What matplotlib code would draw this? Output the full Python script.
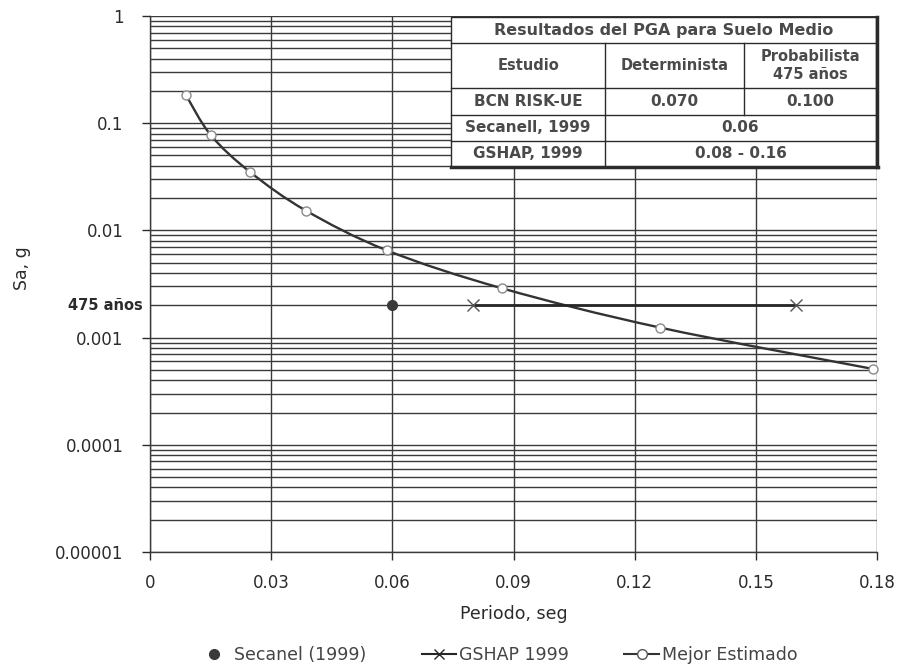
import numpy as np
import matplotlib.pyplot as plt
from matplotlib.ticker import FixedLocator, LogLocator, NullFormatter
from matplotlib.lines import Line2D
from matplotlib.path import Path
from matplotlib.patches import PathPatch

plt.rcParams['font.family'] = ['DejaVu Sans']

# best-estimate spectrum (period in s, Sa in g)
periodo = [0.0089, 0.0151, 0.0248, 0.0386, 0.0587, 0.0872, 0.1263, 0.179]
sa_mejor = [0.183, 0.077, 0.035, 0.0153, 0.0065, 0.00288, 0.00124, 0.00051]

# single-value studies at the 475-year level
secanel_x = [0.06]
secanel_y = [0.002]
gshap_x = [0.08, 0.16]
gshap_y = [0.002, 0.002]
nivel_475 = 0.002

x_ticks = [0, 0.03, 0.06, 0.09, 0.12, 0.15, 0.18]
y_ticks = [1e-5, 1e-4, 1e-3, 1e-2, 1e-1, 1]
y_labels = ['0.00001', '0.0001', '0.001', '0.01', '0.1', '1']

tabla_titulo = 'Resultados del PGA para Suelo Medio'
tabla_cabecera = ['Estudio', 'Determinista', 'Probabilista\n475 años']
tabla_bcn = ['BCN RISK-UE', '0.070', '0.100']
tabla_secanell = ['Secanell, 1999', '0.06']
tabla_gshap = ['GSHAP, 1999', '0.08 - 0.16']

ink = '#2b2b2b'
grid_c = '#3a3a3a'


def smooth_path(xs, ys, tension=1 / 6):
    # Catmull-Rom style cubic segments, computed in (x, log y) space
    pts = np.column_stack([xs, np.log10(ys)])
    verts = [pts[0]]
    codes = [Path.MOVETO]
    n = len(pts)
    for i in range(n - 1):
        p0 = pts[max(i - 1, 0)]
        p1 = pts[i]
        p2 = pts[i + 1]
        p3 = pts[min(i + 2, n - 1)]
        c1 = p1 + (p2 - p0) * tension
        c2 = p2 - (p3 - p1) * tension
        verts += [c1, c2, p2]
        codes += [Path.CURVE4] * 3
    verts = np.array(verts)
    verts[:, 1] = 10 ** verts[:, 1]
    return Path(verts, codes)


fig = plt.figure(figsize=(8.97, 6.69), dpi=100)
ax = fig.add_axes([150 / 897, 1 - 552 / 669, 727 / 897, 536 / 669])

ax.set_yscale('log')
ax.set_xlim(0, 0.18)
ax.set_ylim(1e-5, 1)

ax.xaxis.set_major_locator(FixedLocator(x_ticks))
ax.set_xticklabels([f'{v:g}' for v in x_ticks])
ax.yaxis.set_major_locator(FixedLocator(y_ticks))
ax.set_yticklabels(y_labels)
ax.yaxis.set_minor_locator(LogLocator(base=10, subs=range(2, 10)))
ax.yaxis.set_minor_formatter(NullFormatter())

ax.grid(True, which='both', axis='y', color=grid_c, linewidth=1.0)
ax.grid(True, which='major', axis='x', color=grid_c, linewidth=1.0)
ax.tick_params(axis='both', which='major', labelsize=12, colors=ink,
               length=6, width=1.0, direction='out')
ax.tick_params(axis='y', which='major', pad=13)
ax.tick_params(axis='x', which='major', pad=10)
ax.tick_params(axis='y', which='minor', length=0)
for s in ['top', 'right']:
    ax.spines[s].set_visible(False)
for s in ['left', 'bottom']:
    ax.spines[s].set_color(grid_c)
    ax.spines[s].set_linewidth(1.0)
ax.set_axisbelow(True)

# return-period label on the 475-year level
ax.text(-0.01, nivel_475, '475 años', transform=ax.get_yaxis_transform(),
        ha='right', va='center', fontsize=10.5, fontweight='bold', color=ink)

ax.add_patch(PathPatch(smooth_path(periodo, sa_mejor), facecolor='none',
                       edgecolor='#333333', linewidth=1.7, zorder=4))
ax.plot(periodo, sa_mejor, linestyle='none', marker='o', markersize=6.5,
        markerfacecolor='white', markeredgecolor='#8a8a8a',
        markeredgewidth=1.0, zorder=5, clip_on=False)
ax.plot(gshap_x, gshap_y, color='#262626', linewidth=2.0, marker='x',
        markersize=8, markeredgewidth=1.0, markeredgecolor='#555555', zorder=4)
ax.plot(secanel_x, secanel_y, linestyle='none', marker='o', markersize=7,
        color='#3a3a3a', zorder=5)

ax.set_xlabel('Periodo, seg', fontsize=12.5, color=ink, labelpad=9)
ax.set_ylabel('Sa, g', fontsize=12.5, color=ink)
ax.yaxis.set_label_coords(-0.163, 0.53)

# results table drawn in figure pixel coordinates
def fx(px):
    return px / 897

def fy(py):
    return 1 - py / 669

x0, x1, x2, x3 = 451, 605, 744, 876
rows = [17, 43, 88, 115, 141, 167]
fig.patches.append(plt.Rectangle((fx(x0), fy(rows[-1])), fx(x3) - fx(x0),
                                 fy(rows[0]) - fy(rows[-1]), transform=fig.transFigure,
                                 facecolor='white', edgecolor=ink, linewidth=1.0, zorder=10))

def hline(y, xa, xb, lw=1.0):
    fig.add_artist(Line2D([fx(xa), fx(xb)], [fy(y), fy(y)], color=ink, linewidth=lw, zorder=11))

def vline(x, ya, yb, lw=1.0):
    fig.add_artist(Line2D([fx(x), fx(x)], [fy(ya), fy(yb)], color=ink, linewidth=lw, zorder=11))

for r in rows[1:-1]:
    hline(r, x0, x3)
hline(rows[-1], x0, x3 + 2, lw=2.5)
vline(x3 + 1, rows[0], rows[-1], lw=2.5)
vline(x1, rows[1], rows[-1])
vline(x2, rows[1], rows[3])

def cell(text, xa, xb, ya, yb, size=11):
    fig.text(fx((xa + xb) / 2), fy((ya + yb) / 2), text, ha='center', va='center',
             fontsize=size, fontweight='bold', color='#4a4a4a', zorder=12,
             linespacing=1.2)

cell(tabla_titulo, x0, x3, rows[0], rows[1], size=11.5)
for (a, b), t in zip([(x0, x1), (x1, x2), (x2, x3)], tabla_cabecera):
    cell(t, a, b, rows[1], rows[2], size=10.5)
for (a, b), t in zip([(x0, x1), (x1, x2), (x2, x3)], tabla_bcn):
    cell(t, a, b, rows[2], rows[3])
cell(tabla_secanell[0], x0, x1, rows[3], rows[4])
cell(tabla_secanell[1], x1, x3, rows[3], rows[4])
cell(tabla_gshap[0], x0, x1, rows[4], rows[5])
cell(tabla_gshap[1], x1, x3, rows[4], rows[5])

handles = [
    Line2D([], [], linestyle='none', marker='o', markersize=7, color='#3a3a3a'),
    Line2D([], [], color='#262626', linewidth=1.5, marker='x', markersize=7),
    Line2D([], [], color='#333333', linewidth=1.5, marker='o', markersize=7,
           markerfacecolor='white', markeredgecolor='#555555'),
]
fig.legend(handles, ['Secanel (1999)', 'GSHAP 1999', 'Mejor Estimado'],
           loc='center', bbox_to_anchor=(fx(497), fy(655)), ncol=3, frameon=False,
           fontsize=12.5, labelcolor='#444444', handlelength=2.0, handletextpad=0.15,
           columnspacing=3.2)

fig.savefig('out.png', dpi=100)
